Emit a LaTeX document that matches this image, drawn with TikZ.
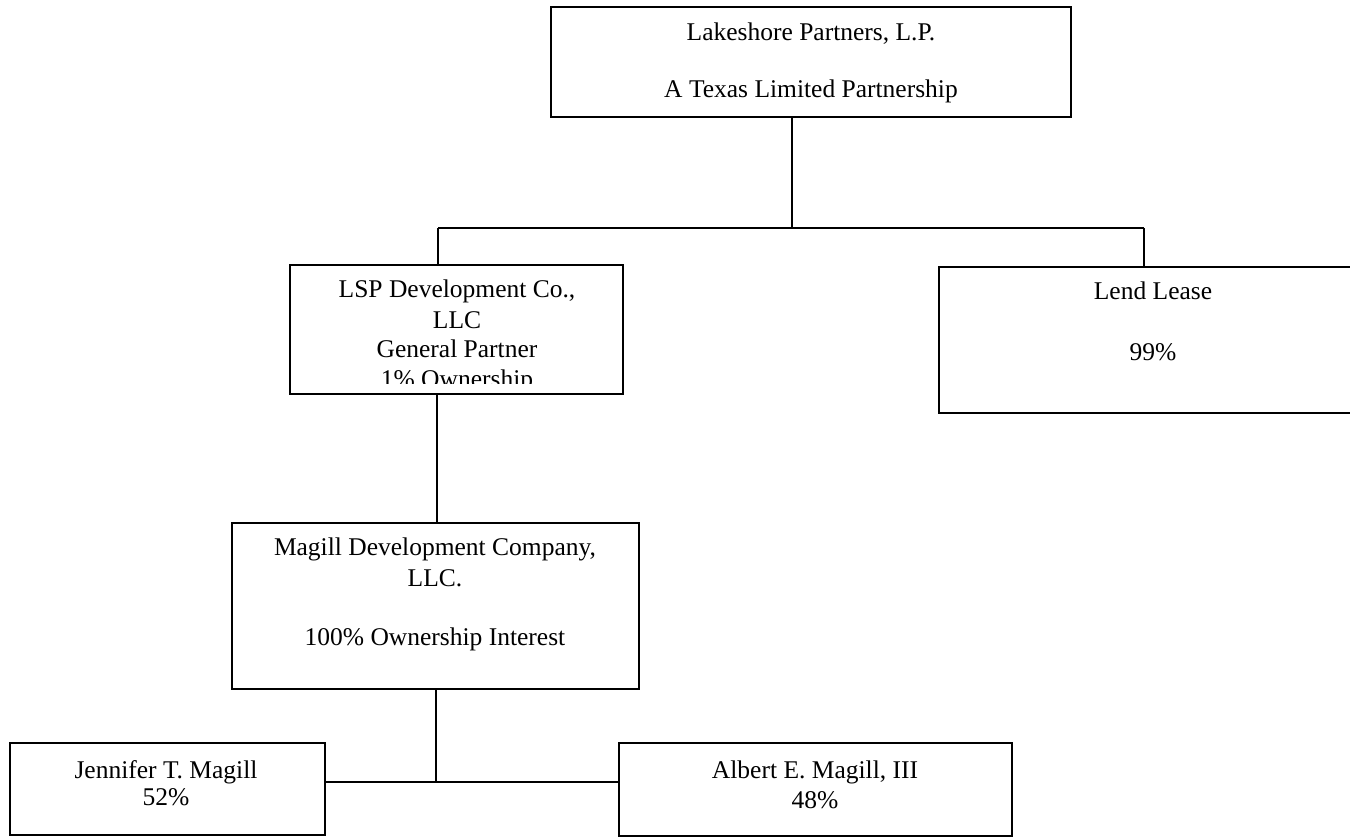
\documentclass[tikz,border=0pt]{standalone}
\usepackage{fontspec}
\setmainfont{Liberation Serif}
\begin{document}
\begin{tikzpicture}[x=1pt,y=-1pt,
  orgbox/.style={draw=black,line width=2.2pt,rectangle,inner sep=0pt},
  label/.style={anchor=base,inner sep=0pt,
    font=\fontsize{25.5}{29.5}\selectfont},
  link/.style={draw=black,line width=2.2pt}]
\useasboundingbox (0,0) rectangle (1350,837);
\fill[white] (0,0) rectangle (1350,837);

% boxes
\node[orgbox,minimum width=520pt,minimum height=110pt] (top) at (811,62) {};
\node[orgbox,minimum width=333pt,minimum height=129pt] (lsp) at (456.5,329.5) {};
\node[orgbox,minimum width=428pt,minimum height=146pt] (lend) at (1153,340) {};
\node[orgbox,minimum width=407pt,minimum height=166pt] (mdc) at (435.5,606) {};
\node[orgbox,minimum width=315pt,minimum height=92pt] (jen) at (167.5,789) {};
\node[orgbox,minimum width=393pt,minimum height=93pt] (alb) at (815.5,789.5) {};

% texts, one node per line (positions are baselines)
\node[label] (top1) at (811,41) {Lakeshore Partners, L.P.};
\node[label] (top2) at (811,98) {A Texas Limited Partnership};
\begin{scope}
  \clip (290,265) rectangle (623,383);
  \node[label] (lsp1) at (457,298) {LSP Development Co.,};
  \node[label] (lsp2) at (457,328) {LLC};
  \node[label] (lsp3) at (457,357) {General Partner};
  \node[label] (lsp4) at (457,387) {1\% Ownership};
\end{scope}
\node[label] (lend1) at (1153,299) {Lend Lease};
\node[label] (lend2) at (1153,360) {99\%};
\node[label] (mdc1) at (435,555) {Magill Development Company,};
\node[label] (mdc2) at (435,586) {LLC.};
\node[label] (mdc3) at (435,645) {100\% Ownership Interest};
\node[label] (jen1) at (166,778) {Jennifer T. Magill};
\node[label] (jen2) at (166,805) {52\%};
\node[label] (alb1) at (815,778) {Albert E. Magill, III};
\node[label] (alb2) at (815,808) {48\%};

% junction points of the connectors
\coordinate (j0) at (792,228);
\coordinate (jl) at (438,228);
\coordinate (jr) at (1144,228);
\coordinate (j1) at (436,782);

% connectors
\draw[link] (top.south -| j0) -- (j0);
\draw[link] (jl) -- (jr);
\draw[link] (jl) -- (lsp.north -| jl);
\draw[link] (jr) -- (lend.north -| jr);
\draw[link] (lsp.south -| 437,0) -- (mdc.north -| 437,0);
\draw[link] (mdc.south -| j1) -- (j1);
\draw[link] (jen.east |- j1) -- (alb.west |- j1);
\end{tikzpicture}
\end{document}
